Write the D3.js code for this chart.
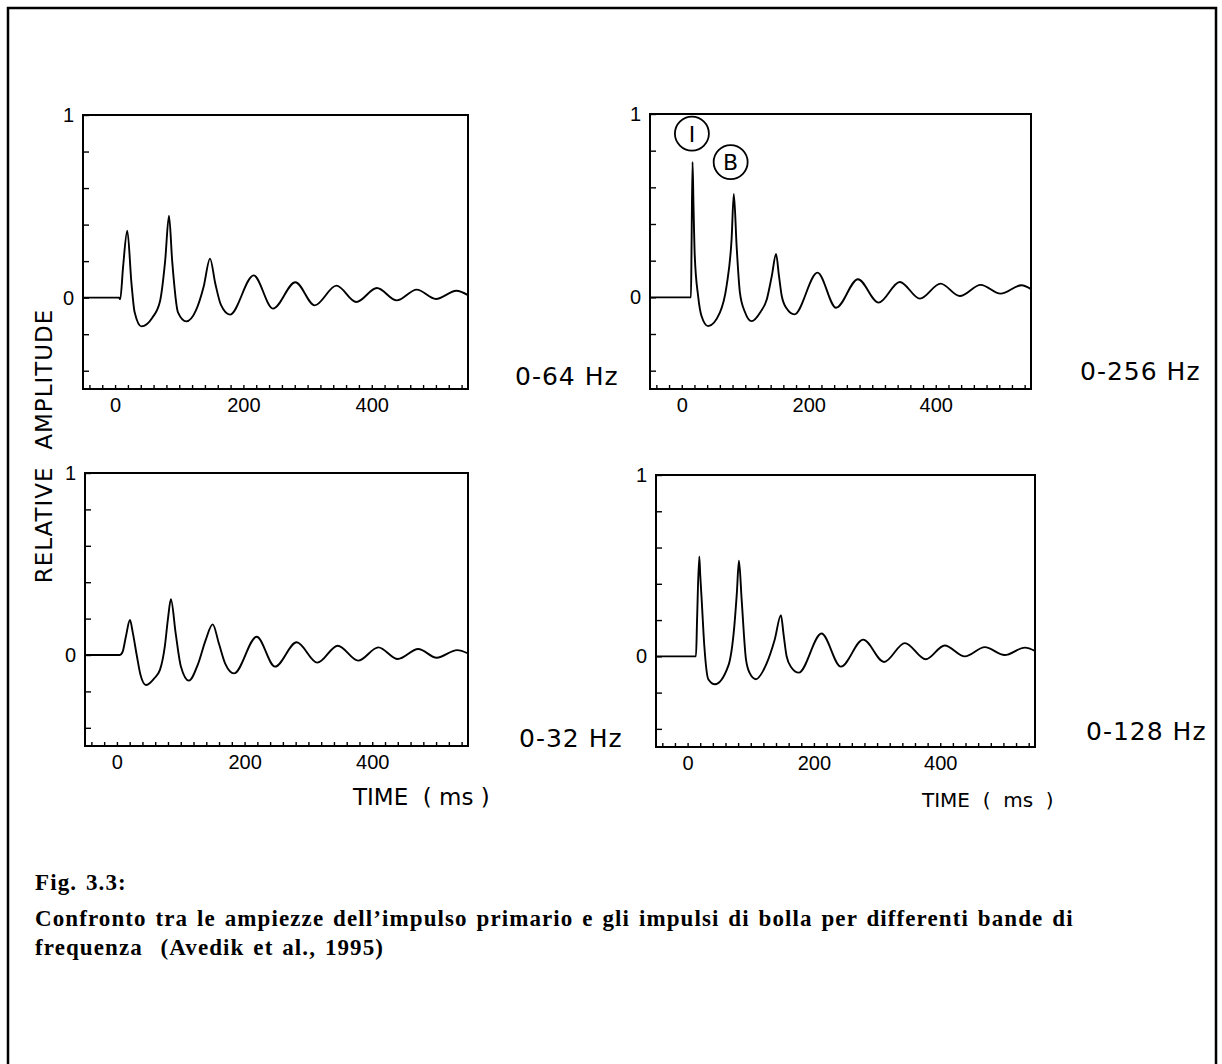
<!DOCTYPE html>
<html>
<head>
<meta charset="utf-8">
<script src="https://cdn.jsdelivr.net/npm/d3@7"></script>
<style>
  body { margin: 0; background: #fff; }
  text { fill: #000; }
</style>
</head>
<body>
<div id="svgContainer"></div>
<script>
// waveform data: [time ms, relative amplitude]
const band64 = [
  [-50,0],[6,0],[8,-0.008],[12.5,0.17],[19,0.367],[25.5,0.08],[30.5,-0.08],[41,-0.157],
  [58,-0.11],[70,-0.02],[78,0.2],[84,0.449],[89,0.2],[98,-0.08],[111,-0.13],[126,-0.07],
  [138,0.06],[148,0.214],[156,0.08],[165,-0.04],[179,-0.093],[216,0.122],[246,-0.06],
  [281,0.084],[311,-0.042],[345,0.066],[376,-0.024],[408,0.053],[439,-0.015],[470,0.044],
  [500,-0.007],[532,0.038],[550,0.014]
];
const band256 = [
  [-50,0],[14.5,0],[15.5,0.3],[17,0.738],[18.5,0.5],[20.5,0.226],[25.8,0.007],[31,-0.1],
  [41.6,-0.157],[60,-0.084],[70.6,0.062],[78.5,0.318],[82,0.564],[86.4,0.28],[91.6,0.026],
  [99.5,-0.08],[110,-0.13],[124,-0.08],[134,-0.01],[142,0.12],[148.5,0.236],[153,0.12],
  [157.5,0.007],[165,-0.06],[177.4,-0.093],[213.8,0.135],[243,-0.057],[277.5,0.099],
  [310,-0.029],[343.4,0.084],[375,-0.007],[407.6,0.075],[438,0.007],[470.8,0.068],
  [502,0.02],[535,0.066],[550,0.045]
];
const band32 = [
  [-50,0],[4.7,0],[9,0.018],[14,0.1],[20.4,0.192],[25,0.12],[31,0],[37,-0.11],[45.5,-0.165],
  [58,-0.13],[67.4,-0.082],[75,0.046],[80,0.2],[84.6,0.306],[92,0.12],[100,-0.06],
  [112.8,-0.141],[127,-0.05],[139,0.082],[150,0.168],[160,0.06],[170,-0.05],
  [183.4,-0.101],[219,0.1],[247.6,-0.064],[281.6,0.07],[314,-0.042],[346,0.051],[378,-0.031],
  [409.6,0.042],[440,-0.022],[472,0.033],[501,-0.015],[533,0.027],[550,0.009]
];
const band128 = [
  [-50,0],[13.3,0],[15,0.2],[18.5,0.551],[20,0.45],[22.3,0.313],[26.5,0.057],[32.8,-0.126],
  [43.4,-0.154],[64.4,-0.053],[74,0.167],[78,0.35],[81.3,0.527],[85.6,0.313],[92.4,-0.016],
  [98,-0.09],[108,-0.126],[125,-0.04],[138,0.093],[147.8,0.227],[152,0.12],[156.7,0.002],
  [164,-0.06],[176,-0.09],[212,0.126],[242.7,-0.057],[278,0.092],[311,-0.031],[344,0.073],
  [377,-0.016],[407,0.06],[439,0],[470.6,0.051],[502,0.007],[534,0.048],[550,0.03]
];

// axis values
const xDomain = [-50, 550];
const yDomain = [-0.5, 1];
const xTicks = d3.range(-40, 541, 20);
const xLabels = [0, 200, 400];
const yTicks = [-0.4, -0.2, 0, 0.2, 0.4, 0.6, 0.8, 1];
const yLabels = [0, 1];

// markers on the 0-256 Hz trace: [time, amplitude, letter]
const markers = [[16, 0.893, 'I'], [77, 0.738, 'B']];

const bandNames = ['0-64 Hz', '0-256 Hz', '0-32 Hz', '0-128 Hz'];
const captionLines = [
  'Fig. 3.3:',
  'Confronto tra le ampiezze dell\u2019impulso primario e gli impulsi di bolla per differenti bande di',
  'frequenza  (Avedik et al., 1995)'
];

// layout of the four panels
const w = 1222, h = 1064;
const panels = [
  {data: band64,  name: bandNames[0], box: [83, 115, 468, 389],  nameAt: [515, 385]},
  {data: band256, name: bandNames[1], box: [650, 114, 1031, 389], nameAt: [1080, 380]},
  {data: band32,  name: bandNames[2], box: [85, 473, 468, 746],  nameAt: [519, 747]},
  {data: band128, name: bandNames[3], box: [656, 475, 1035, 747], nameAt: [1086, 740]}
];

const svg = d3.select('#svgContainer')
  .append('svg')
  .attr('width', w)
  .attr('height', h);

// outer frame
svg.append('rect')
  .attr('x', 8).attr('y', 8)
  .attr('width', 1208).attr('height', 1070)
  .attr('fill', 'none')
  .attr('stroke', '#000')
  .attr('stroke-width', 2.5);

panels.forEach((p, i) => {
  const [x0, y0, x1, y1] = p.box;
  const xScale = d3.scaleLinear().domain(xDomain).range([x0, x1]);
  const yScale = d3.scaleLinear().domain(yDomain).range([y1, y0]);
  const g = svg.append('g');

  // ticks (pointing inwards)
  g.append('g')
    .attr('transform', 'translate(0,' + y1 + ')')
    .call(d3.axisBottom(xScale).tickValues(xTicks).tickSize(-4).tickFormat(''))
    .call(a => a.select('.domain').remove());
  g.append('g')
    .attr('transform', 'translate(' + x0 + ',0)')
    .call(d3.axisLeft(yScale).tickValues(yTicks).tickSize(-6).tickFormat(''))
    .call(a => a.select('.domain').remove());

  // tick labels
  g.append('g')
    .attr('transform', 'translate(0,' + y1 + ')')
    .call(d3.axisBottom(xScale).tickValues(xLabels).tickSize(0).tickPadding(9))
    .call(a => a.select('.domain').remove())
    .selectAll('text')
    .attr('font-family', 'Liberation Sans, Arial, sans-serif')
    .attr('font-size', 20);
  g.append('g')
    .attr('transform', 'translate(' + x0 + ',0)')
    .call(d3.axisLeft(yScale).tickValues(yLabels).tickSize(0).tickPadding(9).tickFormat(d3.format('d')))
    .call(a => a.select('.domain').remove())
    .selectAll('text')
    .attr('font-family', 'Liberation Sans, Arial, sans-serif')
    .attr('font-size', 20);
  g.selectAll('.tick line').attr('stroke-width', 1.4);

  // frame
  g.append('rect')
    .attr('x', x0).attr('y', y0)
    .attr('width', x1 - x0).attr('height', y1 - y0)
    .attr('fill', 'none')
    .attr('stroke', '#000')
    .attr('stroke-width', 2);

  // trace
  const line = d3.line()
    .x(d => xScale(d[0]))
    .y(d => yScale(d[1]))
    .curve(d3.curveMonotoneX);
  g.append('path')
    .datum(p.data)
    .attr('d', line)
    .attr('fill', 'none')
    .attr('stroke', '#000')
    .attr('stroke-width', 1.9)
    .attr('stroke-linejoin', 'round');

  // band name
  svg.append('text')
    .text(p.name)
    .attr('x', p.nameAt[0])
    .attr('y', p.nameAt[1])
    .attr('font-family', 'DejaVu Sans, sans-serif')
    .attr('font-size', 25)
    .attr('letter-spacing', 1);

  if (i === 1) {
    markers.forEach(m => {
      g.append('circle')
        .attr('cx', xScale(m[0]))
        .attr('cy', yScale(m[1]))
        .attr('r', 17)
        .attr('fill', '#fff')
        .attr('stroke', '#000')
        .attr('stroke-width', 1.8);
      g.append('text')
        .text(m[2])
        .attr('x', xScale(m[0]))
        .attr('y', yScale(m[1]) + 8)
        .attr('text-anchor', 'middle')
        .attr('font-family', 'DejaVu Sans, sans-serif')
        .attr('font-size', 22);
    });
  }
});

// axis titles
svg.append('text')
  .text('RELATIVE  AMPLITUDE')
  .attr('transform', 'translate(52,446) rotate(-90)')
  .attr('text-anchor', 'middle')
  .attr('font-family', 'DejaVu Sans, sans-serif')
  .attr('font-size', 23)
  .attr('letter-spacing', 1)
  .style('white-space', 'pre');

svg.append('text')
  .text('TIME  ( ms )')
  .attr('x', 353)
  .attr('y', 805)
  .attr('font-family', 'DejaVu Sans, sans-serif')
  .attr('font-size', 23)
  .style('white-space', 'pre');

svg.append('text')
  .text('TIME  (  ms  )')
  .attr('x', 922)
  .attr('y', 807)
  .attr('font-family', 'DejaVu Sans, sans-serif')
  .attr('font-size', 20)
  .style('white-space', 'pre');

// caption
svg.selectAll('.caption')
  .data(captionLines)
  .enter()
  .append('text')
  .attr('class', 'caption')
  .text(d => d)
  .attr('x', 35)
  .attr('y', (d, i) => [890, 926, 955][i])
  .attr('font-family', 'Liberation Serif, Times New Roman, serif')
  .attr('font-weight', 'bold')
  .attr('font-size', 23)
  .attr('letter-spacing', 1.1)
  .attr('word-spacing', 2)
  .style('white-space', 'pre');
</script>
</body>
</html>
